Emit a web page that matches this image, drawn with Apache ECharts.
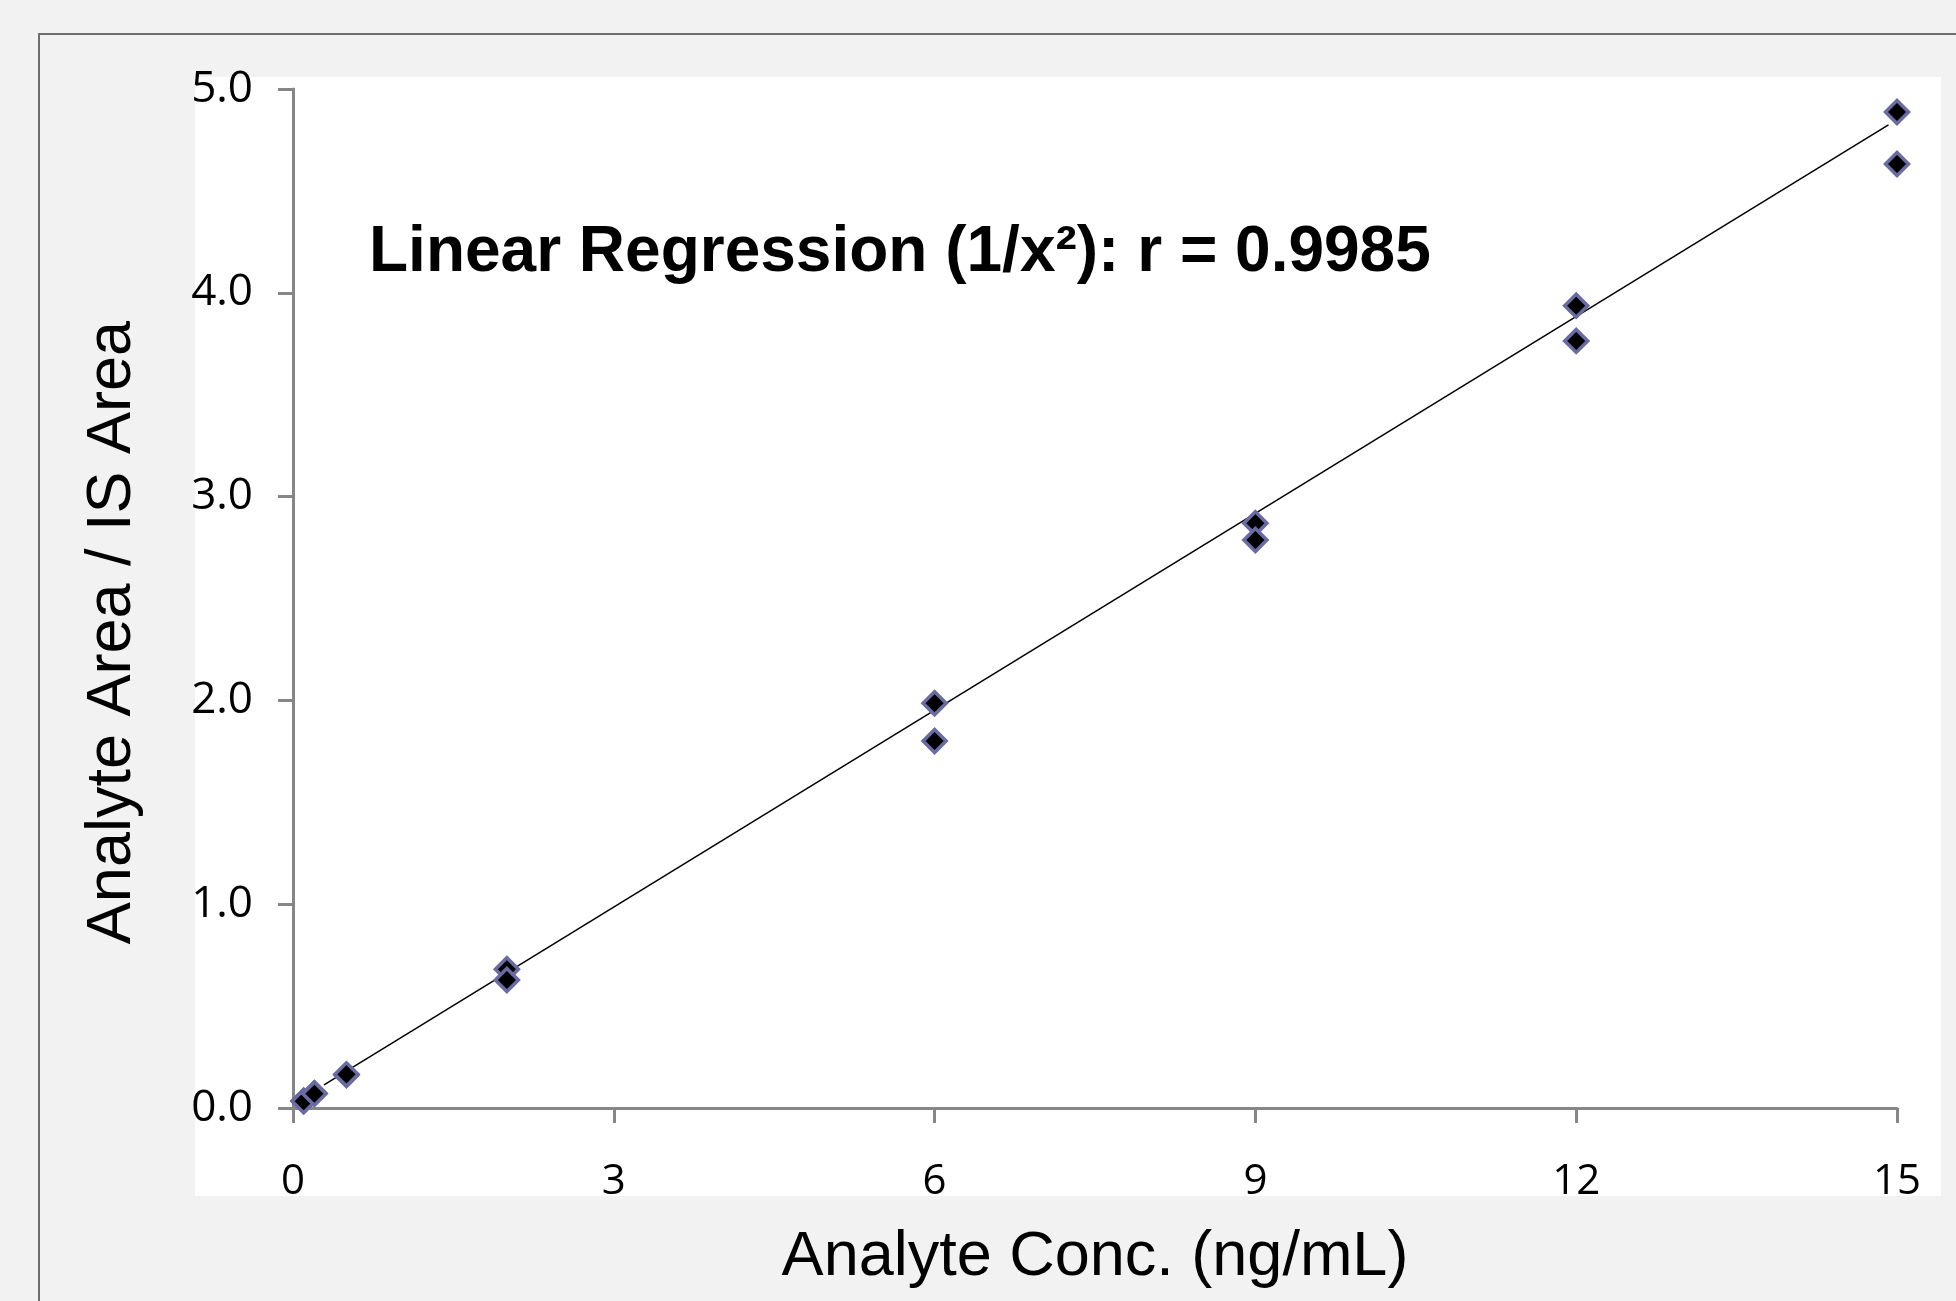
<!DOCTYPE html>
<html>
<head>
<meta charset="utf-8">
<title>Calibration curve</title>
<script src="https://cdn.jsdelivr.net/npm/echarts@6/dist/echarts.min.js"></script>
<style>
  html, body { margin: 0; padding: 0; background: #f2f2f2; }
  #chart { width: 1956px; height: 1301px; }
</style>
</head>
<body>
<div id="chart"></div>
<script>
// calibration standards: concentration (ng/mL) and analyte / IS area ratio
const concentrations = [0.1, 0.1, 0.2, 0.2, 0.5, 0.5, 2, 2, 6, 6, 9, 9, 12, 12, 15, 15];
const areaRatios = [0.036, 0.033, 0.072, 0.070, 0.162, 0.165, 0.681, 0.628, 1.986, 1.801, 2.869, 2.787, 3.937, 3.764, 4.887, 4.632];

// regression line end points (as drawn in the original)
const fitLineX = [0.29, 14.92];
const fitLineY = [0.113, 4.824];

const xTicks = [0, 3, 6, 9, 12, 15];
const yTicks = [0, 1, 2, 3, 4, 5];

const titleText = 'Linear Regression (1/x²): r = 0.9985';
const xName = 'Analyte Conc. (ng/mL)';
const yName = 'Analyte Area / IS Area';

const axisGray = '#868686';
const tickFont = '"Open Sans", "Noto Sans", sans-serif';
const textFont = '"Liberation Sans", Arial, sans-serif';

let myChart = echarts.init(document.getElementById('chart'));

let option = {
    backgroundColor: '#f2f2f2',
    animation: false,
    title: {
        text: titleText,
        left: 369,
        top: 221,
        padding: 0,
        textStyle: { fontFamily: textFont, fontWeight: 'bold', fontSize: 64, color: '#000' }
    },
    graphic: [
        // outer frame
        { type: 'rect', z: -10, silent: true, shape: { x: 39, y: 34, width: 2000, height: 2000 },
          style: { fill: '#f2f2f2', stroke: '#6e6e6e', lineWidth: 2 } },
        // white chart area
        { type: 'rect', z: -9, silent: true, shape: { x: 195, y: 77, width: 1746, height: 1119 },
          style: { fill: '#ffffff' } }
    ],
    grid: { left: 293, right: 59, top: 89, bottom: 193 },
    xAxis: {
        type: 'value',
        min: xTicks[0],
        max: xTicks[xTicks.length - 1],
        interval: 3,
        name: xName,
        nameLocation: 'middle',
        nameGap: 118,
        nameTextStyle: { fontFamily: textFont, fontSize: 63, color: '#000' },
        axisLine: { lineStyle: { color: axisGray, width: 3 } },
        axisTick: { show: true, length: 15, lineStyle: { color: axisGray, width: 3 } },
        axisLabel: { margin: 53, fontFamily: tickFont, fontSize: 42, color: '#000' },
        splitLine: { show: false }
    },
    yAxis: {
        type: 'value',
        min: yTicks[0],
        max: yTicks[yTicks.length - 1],
        interval: 1,
        name: yName,
        nameLocation: 'middle',
        nameGap: 149,
        nameTextStyle: { fontFamily: textFont, fontSize: 63, color: '#000', padding: [0, 68, 0, 0] },
        axisLine: { show: true, lineStyle: { color: axisGray, width: 3 } },
        axisTick: { show: true, length: 15, lineStyle: { color: axisGray, width: 3 } },
        axisLabel: {
            margin: 40, fontFamily: tickFont, fontSize: 44, color: '#000',
            formatter: v => v.toFixed(1)
        },
        splitLine: { show: false }
    },
    series: [
        {
            name: 'fit',
            type: 'line',
            data: fitLineX.map((x, i) => [x, fitLineY[i]]),
            showSymbol: false,
            lineStyle: { color: '#000', width: 1.5 },
            z: 2
        },
        {
            name: 'standards',
            type: 'scatter',
            data: concentrations.map((x, i) => [x, areaRatios[i]]),
            symbol: 'diamond',
            symbolSize: 23,
            itemStyle: { color: '#000', borderColor: '#6b6ba3', borderWidth: 3.5, opacity: 1 },
            z: 3
        }
    ]
};
myChart.setOption(option);
</script>
</body>
</html>
